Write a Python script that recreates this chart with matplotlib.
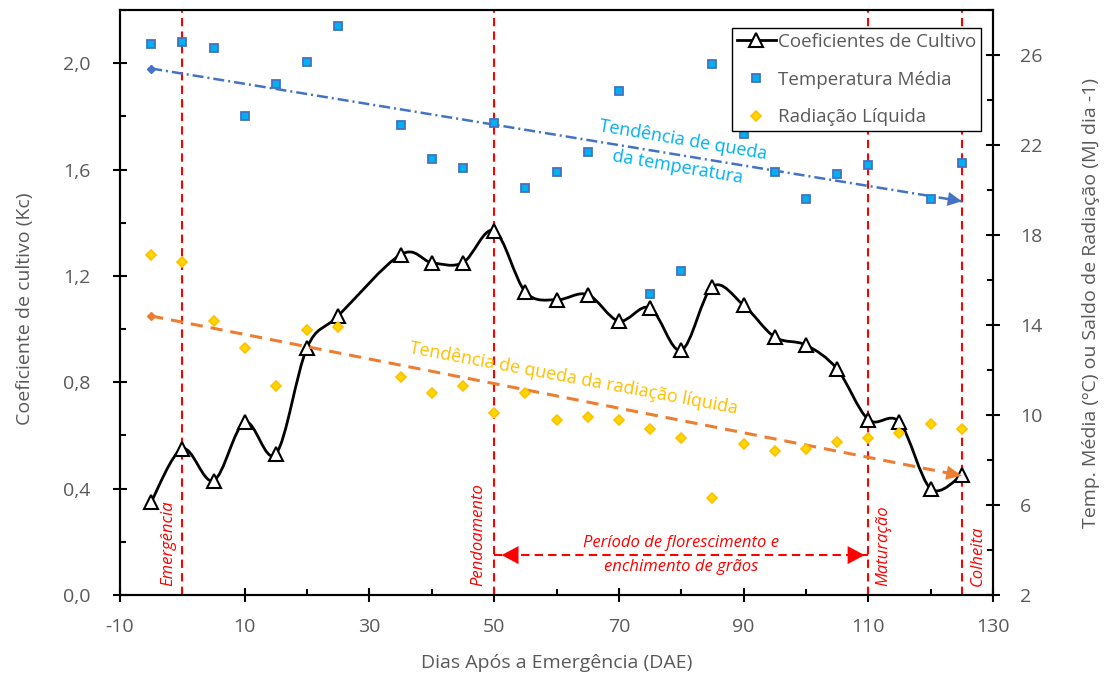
import numpy as np
import matplotlib
matplotlib.use('Agg')
import matplotlib.pyplot as plt
from matplotlib.path import Path
from matplotlib.patches import PathPatch
from matplotlib.lines import Line2D
from matplotlib.ticker import MultipleLocator, FixedLocator

plt.rcParams['font.family'] = ['Open Sans', 'DejaVu Sans']

# ---------------- data ----------------
dae = [-5, 0, 5, 10, 15, 20, 25, 35, 40, 45, 50, 55, 60, 65, 70, 75, 80, 85,
       90, 95, 100, 105, 110, 115, 120, 125]
kc = [0.35, 0.55, 0.43, 0.65, 0.53, 0.93, 1.05, 1.28, 1.25, 1.25, 1.37, 1.14,
      1.11, 1.13, 1.03, 1.08, 0.92, 1.16, 1.09, 0.97, 0.94, 0.85, 0.66, 0.65,
      0.40, 0.45]
temperatura = [26.5, 26.6, 26.3, 23.3, 24.7, 25.7, 27.3, 22.9, 21.4, 21.0, 23.0,
               20.1, 20.8, 21.7, 24.4, 15.4, 16.4, 25.6, 22.5, 20.8, 19.6, 20.7,
               21.1, 22.8, 19.6, 21.2]
radiacao = [17.1, 16.8, 14.2, 13.0, 11.3, 13.8, 13.9, 11.7, 11.0, 11.3, 10.1,
            11.0, 9.8, 9.9, 9.8, 9.4, 9.0, 6.3, 8.7, 8.4, 8.5, 8.8, 9.0, 9.2,
            9.6, 9.4]

trend_x = [-5, 125]
temp_trend = [25.4, 19.5]
rad_trend = [14.4, 7.3]

eventos_x = [0, 50, 110, 125]
eventos_nome = ['Emergência', 'Pendoamento', 'Maturação', 'Colheita']
eventos_texto_x = [-2.3, 47.4, 112.4, 127.6]

periodo_x = [50, 110]
periodo_texto = ['Período de florescimento e', 'enchimento de grãos']

x_ticks = [-10, 10, 30, 50, 70, 90, 110, 130]
y_left_ticks = [0.0, 0.4, 0.8, 1.2, 1.6, 2.0]
y_right_ticks = [2, 6, 10, 14, 18, 22, 26]

# ---------------- figure ----------------
GREY = '#595959'
fig = plt.figure(figsize=(11.07, 6.73), dpi=100)
ax = fig.add_axes([120 / 1107, 1 - 595 / 673, 873 / 1107, 585 / 673])
ax2 = ax.twinx()

ax.set_xlim(-10, 130)
ax.set_ylim(0, 2.2)
ax2.set_ylim(2, 28)

# smoothed Kc line (Excel-like Catmull-Rom bezier)
px = np.asarray(dae, float)
py = np.asarray(kc, float)
P = np.column_stack([px, py])
n = len(P)
verts = [tuple(P[0])]
codes = [Path.MOVETO]
for i in range(n - 1):
    p0 = P[max(i - 1, 0)]
    p1 = P[i]
    p2 = P[i + 1]
    p3 = P[min(i + 2, n - 1)]
    c1 = p1 + (p2 - p0) / 6.0
    c2 = p2 - (p3 - p1) / 6.0
    verts += [tuple(c1), tuple(c2), tuple(p2)]
    codes += [Path.CURVE4] * 3
ax.add_patch(PathPatch(Path(verts, codes), facecolor='none', edgecolor='black',
                       lw=2.0, zorder=4))
ax.plot(dae, kc, linestyle='none', marker='^', ms=9.5, mfc='white',
        mec='black', mew=1.5, zorder=5)

# event vertical lines
for xv in eventos_x:
    ax.axvline(xv, color='#FF0000', lw=1.5, ls=(0, (4, 2.5)), zorder=3)
for xt, name in zip(eventos_texto_x, eventos_nome):
    ax.text(xt, 0.035, name, rotation=90, ha='center', va='bottom',
            color='#FF0000', fontsize=12, style='italic', zorder=6)

# flowering period arrow
ax.plot(periodo_x, [0.15, 0.15], color='#FF0000', lw=1.5, ls=(0, (4, 2.5)),
        zorder=3)
for tip, base in [(periodo_x[0] + 1.2, periodo_x[0] + 3.4),
                  (periodo_x[1] - 0.6, periodo_x[1] - 2.8)]:
    ax.annotate('', xy=(tip, 0.15), xytext=(base, 0.15),
                arrowprops=dict(arrowstyle='-|>,head_length=0.6,head_width=0.32',
                                color='#FF0000', lw=0.1, shrinkA=0, shrinkB=0,
                                mutation_scale=20), zorder=6)
cx = (periodo_x[0] + periodo_x[1]) / 2
ax.text(cx, 0.194, periodo_texto[0], ha='center', va='center', color='#FF0000',
        fontsize=12, style='italic')
ax.text(cx, 0.106, periodo_texto[1], ha='center', va='center', color='#FF0000',
        fontsize=12, style='italic')

# temperature & radiation scatter
ax2.plot(dae, temperatura, linestyle='none', marker='s', ms=6.2,
         mfc='#00B0F0', mec='#4472C4', mew=1.3, zorder=4)
ax2.plot(dae, radiacao, linestyle='none', marker='D', ms=5.2,
         mfc='#FFD700', mec='#FFC000', mew=1.2, zorder=4)

# trend lines
ax2.plot(trend_x, temp_trend, color='#4472C4', lw=1.8,
         dashes=(4.4, 1.6, 0.8, 1.6), zorder=3)
ax2.plot(trend_x[:1], temp_trend[:1], marker='D', ms=4, color='#4472C4',
         linestyle='none', zorder=3)
slope_t = (temp_trend[1] - temp_trend[0]) / (trend_x[1] - trend_x[0])
ax2.annotate('', xy=(trend_x[1], temp_trend[1]),
             xytext=(trend_x[1] - 2.2, temp_trend[1] - 2.2 * slope_t),
             arrowprops=dict(arrowstyle='-|>,head_length=0.5,head_width=0.25',
                             color='#4472C4', lw=0.1, shrinkA=0, shrinkB=0,
                             mutation_scale=20), zorder=6)

ax2.plot(trend_x, rad_trend, color='#ED7D31', lw=2.2, dashes=(4, 2.6), zorder=3)
ax2.plot(trend_x[:1], rad_trend[:1], marker='D', ms=4, color='#ED7D31',
         linestyle='none', zorder=3)
slope_r = (rad_trend[1] - rad_trend[0]) / (trend_x[1] - trend_x[0])
ax2.annotate('', xy=(trend_x[1], rad_trend[1]),
             xytext=(trend_x[1] - 2.4, rad_trend[1] - 2.4 * slope_r),
             arrowprops=dict(arrowstyle='-|>,head_length=0.55,head_width=0.25',
                             color='#ED7D31', lw=0.1, shrinkA=0, shrinkB=0,
                             mutation_scale=20), zorder=6)

ax2.text(80.35, 22.22, 'Tendência de queda', color='#00B0F0',
         fontsize=13, rotation=-9.6, rotation_mode='anchor', ha='center',
         va='center')
ax2.text(79.5, 21.0, 'da temperatura', color='#00B0F0',
         fontsize=13, rotation=-9.6, rotation_mode='anchor', ha='center',
         va='center')
ax2.text(62.7, 11.6, 'Tendência de queda da radiação líquida', color='#FFC000',
         fontsize=13, rotation=-10.5, rotation_mode='anchor', ha='center',
         va='center')

# ---------------- axes styling ----------------
ax.xaxis.set_major_locator(FixedLocator(x_ticks))
ax.xaxis.set_minor_locator(MultipleLocator(10))
ax.yaxis.set_major_locator(FixedLocator(y_left_ticks))
ax.yaxis.set_minor_locator(MultipleLocator(0.2))
ax2.yaxis.set_major_locator(FixedLocator(y_right_ticks))
ax2.yaxis.set_minor_locator(MultipleLocator(2))

ax.set_xticklabels([str(v) for v in x_ticks])
ax.set_yticklabels([f'{v:.1f}'.replace('.', ',') for v in y_left_ticks])
ax2.set_yticklabels([str(v) for v in y_right_ticks])

for a in (ax, ax2):
    for s in a.spines.values():
        s.set_linewidth(1.5)
        s.set_color('black')
ax.tick_params(axis='both', which='major', direction='inout', length=10,
               width=1.5, labelsize=14, labelcolor=GREY, color='black')
ax.tick_params(axis='both', which='minor', direction='in', length=4,
               width=1.5, color='black')
ax.tick_params(axis='x', which='major', pad=11.5)
ax.tick_params(axis='y', which='major', pad=16)
ax2.tick_params(axis='y', which='major', direction='inout', length=10,
                width=1.5, labelsize=14, labelcolor=GREY, pad=14.5)
ax2.tick_params(axis='y', which='minor', direction='in', length=4, width=1.5)

ax.set_xlabel('Dias Após a Emergência (DAE)', fontsize=14, color=GREY)
ax.xaxis.set_label_coords(0.5, -0.1)
ax.set_ylabel('Coeficiente de cultivo (Kc)', fontsize=14, color=GREY)
ax.yaxis.set_label_coords(-0.098, 0.49)
ax2.set_ylabel('Temp. Média (ºC) ou Saldo de Radiação (MJ dia -1)',
               fontsize=14, color=GREY)
ax2.yaxis.set_label_coords(1.102, 0.5)

# ---------------- legend ----------------
handles = [
    Line2D([], [], color='black', lw=2.0, marker='^', ms=9.5, mfc='white',
           mec='black', mew=1.5),
    Line2D([], [], linestyle='none', marker='s', ms=6.2, mfc='#00B0F0',
           mec='#4472C4', mew=1.3),
    Line2D([], [], linestyle='none', marker='D', ms=5.2, mfc='#FFD700',
           mec='#FFC000', mew=1.2),
]
labels = ['Coeficientes de Cultivo', 'Temperatura Média', 'Radiação Líquida']
leg = ax2.legend(handles, labels, loc='upper right',
                 bbox_to_anchor=(0.986, 0.969), borderaxespad=0,
                 fontsize=13.5, frameon=True, fancybox=False,
                 edgecolor='black', framealpha=1, borderpad=0.25,
                 handlelength=2.1, handletextpad=0.1, labelspacing=1.05)
leg.get_frame().set_linewidth(1.0)
for t in leg.get_texts():
    t.set_color(GREY)
leg.set_zorder(10)

fig.savefig('out.png', dpi=100)
